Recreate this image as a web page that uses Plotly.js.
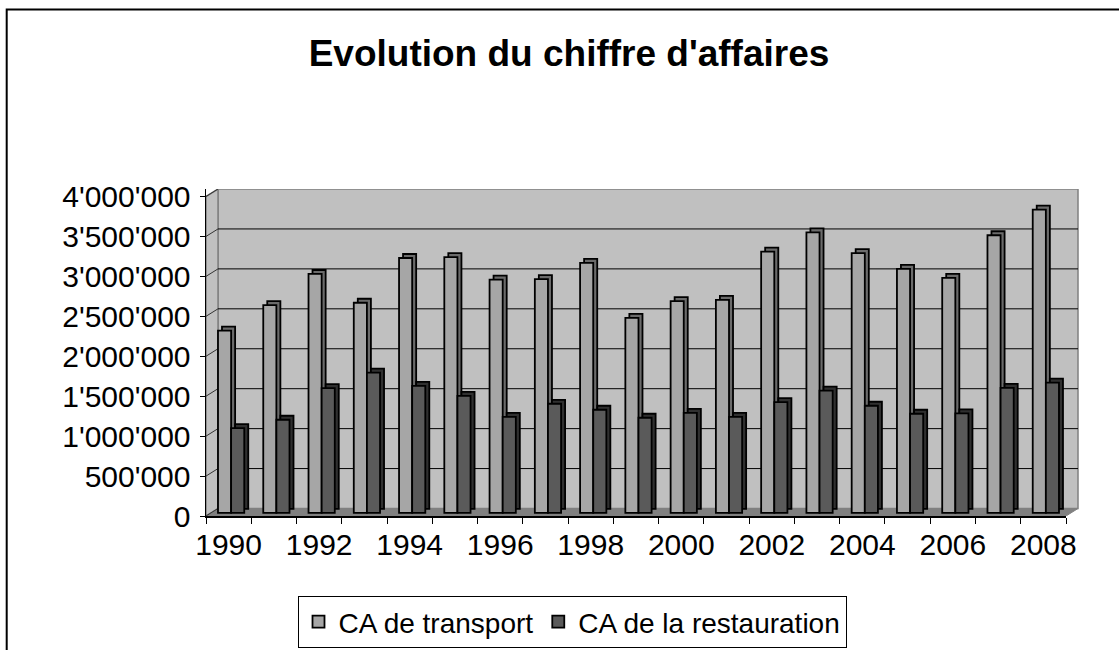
<!DOCTYPE html>
<html>
<head>
<meta charset="utf-8">
<script src="https://cdn.plot.ly/plotly-3.0.1.min.js"></script>
<style>
  body { margin: 0; background: #fff; }
  #chart { width: 1119px; height: 650px; }
</style>
</head>
<body>
<div id="chart"></div>
<script>
var years = [1990, 1991, 1992, 1993, 1994, 1995, 1996, 1997, 1998, 1999,
             2000, 2001, 2002, 2003, 2004, 2005, 2006, 2007, 2008];
var transport = [2280000, 2600000, 2990000, 2630000, 3190000, 3200000, 2920000, 2925000, 3130000, 2440000,
                 2650000, 2665000, 3270000, 3510000, 3250000, 3055000, 2940000, 3475000, 3795000];
var restauration = [1060000, 1165000, 1560000, 1755000, 1590000, 1465000, 1200000, 1365000, 1290000, 1190000,
                    1250000, 1200000, 1385000, 1530000, 1340000, 1240000, 1245000, 1565000, 1630000];
var seriesNames = ["CA de transport", "CA de la restauration"];
var yTicks = [0, 500000, 1000000, 1500000, 2000000, 2500000, 3000000, 3500000, 4000000];
var xLabels = years.filter(function (y) { return y % 2 === 0; });

// plot area geometry (pixels), used to fake the 3D wall
var W = 872, H = 327.5;
var pxPerUnit = 320 / 4000000;      // vertical scale of the front axis
var depthX = 12, depthY = 7.5;      // offset of the back wall
var catPx = 860 / years.length;     // width of one category on the front axis
function val(px) { return px / pxPerUnit; }
function xp(px) { return px / W; }

var dY = val(depthY);
var barBase = val(3.2);
var bw = 0.29;
var shift = 4 / catPx, lift = val(4);

var shapes = [];
// back wall
shapes.push({type: 'rect', xref: 'paper', yref: 'y', layer: 'below',
  x0: xp(depthX), x1: 1, y0: dY, y1: val(H),
  fillcolor: '#c0c0c0', line: {color: '#808080', width: 1.5}});
// side wall
shapes.push({type: 'path', xref: 'paper', yref: 'y', layer: 'below',
  path: 'M0,0 L0,4000000 L' + xp(depthX) + ',' + (4000000 + dY) + ' L' + xp(depthX) + ',' + dY + ' Z',
  fillcolor: '#c0c0c0', line: {color: '#808080', width: 1.5}});
// floor
shapes.push({type: 'path', xref: 'paper', yref: 'y', layer: 'below',
  path: 'M0,0 L' + xp(860) + ',0 L1,' + dY + ' L' + xp(depthX) + ',' + dY + ' Z',
  fillcolor: '#808080', line: {color: '#808080', width: 1}});
yTicks.forEach(function (v) {
  if (v > 0 && v < 4000000) {
    shapes.push({type: 'line', xref: 'paper', yref: 'y', layer: 'below',
      x0: xp(depthX), x1: 1, y0: v + dY, y1: v + dY, line: {color: '#000', width: 1}});
  }
  shapes.push({type: 'line', xref: 'paper', yref: 'y', layer: 'below',
    x0: 0, x1: xp(depthX), y0: v, y1: v + dY, line: {color: '#333', width: 1}});
});
// chart frame (left and top edges only, the rest is cut off)
var fx = xp(6.7 - 206), fy = (516.5 - 9.3) / H;
shapes.push({type: 'path', xref: 'paper', yref: 'paper',
  path: 'M' + fx + ',' + (516.5 - 700) / H + ' L' + fx + ',' + fy + ' L' + xp(1140 - 206) + ',' + fy,
  line: {color: '#000', width: 2}});

function bars(values, name, offset, color, shadow) {
  return {
    type: 'bar', x: years, y: values, name: name,
    base: shadow ? barBase + lift : barBase,
    offset: shadow ? offset + shift : offset,
    width: bw,
    showlegend: !shadow,
    hoverinfo: shadow ? 'skip' : 'x+y+name',
    marker: {color: color, line: {color: '#000', width: 1.8}}
  };
}

var data = [
  bars(transport, seriesNames[0], -0.235, '#6b6b6b', true),
  bars(restauration, seriesNames[1], 0.055, '#303030', true),
  bars(transport, seriesNames[0], -0.235, '#a6a6a6', false),
  bars(restauration, seriesNames[1], 0.055, '#5a5a5a', false)
];

var layout = {
  width: 1119, height: 650,
  margin: {l: 206, r: 41, t: 189, b: 133.5, pad: 0},
  paper_bgcolor: '#fff',
  plot_bgcolor: 'rgba(0,0,0,0)',
  separators: ".'",
  font: {family: 'Liberation Sans, Arial, sans-serif', color: '#000', size: 30},
  title: {
    text: "<b>Evolution du chiffre d'affaires</b>",
    font: {size: 37, family: 'Liberation Sans, Arial, sans-serif'},
    xref: 'container', yref: 'container', x: 0.5085, y: 0.918,
    xanchor: 'center', yanchor: 'middle'
  },
  barmode: 'overlay',
  showlegend: true,
  legend: {
    orientation: 'h', xref: 'container', yref: 'container',
    x: 572 / 1119, y: 1 - 596 / 650,
    xanchor: 'center', yanchor: 'top',
    bordercolor: '#000', borderwidth: 1, bgcolor: '#fff',
    font: {size: 28}, traceorder: 'normal', itemwidth: 30
  },
  xaxis: {
    domain: [0, xp(860)],
    range: [years[0] - 0.5, years[years.length - 1] + 0.5],
    tickvals: xLabels, ticktext: xLabels.map(String),
    ticks: '', showgrid: false, zeroline: false,
    showline: true, linecolor: '#000', linewidth: 1.5,
    ticklabelstandoff: 1,
    minor: {ticks: 'outside', tick0: years[0] - 0.5, dtick: 1, ticklen: 6, tickcolor: '#000', showgrid: false}
  },
  yaxis: {
    range: [0, val(H)],
    tickvals: yTicks, tickformat: ',d',
    ticks: 'outside', ticklen: 5, tickcolor: '#000',
    showgrid: false, zeroline: false,
    showline: true, linecolor: '#000', linewidth: 1.5,
    ticklabelstandoff: 3
  },
  shapes: shapes
};

Plotly.newPlot('chart', data, layout, {displayModeBar: false, staticPlot: true});
</script>
</body>
</html>
